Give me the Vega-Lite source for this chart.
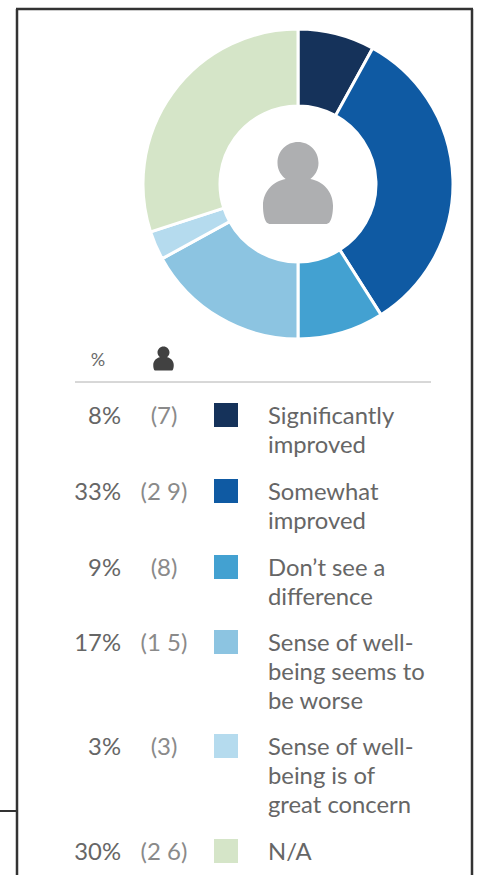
{
  "$schema": "https://vega.github.io/schema/vega-lite/v6.json",
  "width": 479,
  "height": 875,
  "padding": 0,
  "autosize": {"type": "none"},
  "background": "white",
  "config": {"view": {"stroke": null}, "text": {"font": "Lato"}},
  "data": {"values": [
    {"row": 0, "response": "Significantly improved", "label": "Significantly\nimproved", "pct": 0.08, "n": 7, "nLabel": "(7)"},
    {"row": 1, "response": "Somewhat improved", "label": "Somewhat\nimproved", "pct": 0.33, "n": 29, "nLabel": "(2 9)"},
    {"row": 2, "response": "Don’t see a difference", "label": "Don’t see a\ndifference", "pct": 0.09, "n": 8, "nLabel": "(8)"},
    {"row": 3, "response": "Sense of well-being seems to be worse", "label": "Sense of well-\nbeing seems to\nbe worse", "pct": 0.17, "n": 15, "nLabel": "(1 5)"},
    {"row": 4, "response": "Sense of well-being is of great concern", "label": "Sense of well-\nbeing is of\ngreat concern", "pct": 0.03, "n": 3, "nLabel": "(3)"},
    {"row": 5, "response": "N/A", "label": "N/A", "pct": 0.30, "n": 26, "nLabel": "(2 6)"}
  ]},
  "layer": [
    {
      "mark": {"type": "arc", "radius": 155, "radius2": 78, "stroke": "white", "strokeWidth": 3},
      "encoding": {
        "x": {"value": 298},
        "y": {"value": 184},
        "theta": {"field": "pct", "type": "quantitative", "stack": true},
        "order": {"field": "row", "type": "quantitative"},
        "color": {"field": "response", "type": "nominal", "legend": null, "scale": {
          "domain": ["Significantly improved", "Somewhat improved", "Don’t see a difference", "Sense of well-being seems to be worse", "Sense of well-being is of great concern", "N/A"],
          "range": ["#15325a", "#0f5aa3", "#43a1d1", "#8cc4e1", "#b5dbee", "#d5e5c8"]
        }}
      }
    },
    {
      "mark": {"type": "square", "size": 576, "opacity": 1},
      "encoding": {
        "x": {"value": 226},
        "y": {"field": "row", "type": "quantitative", "axis": null, "scale": {"domain": [0, 1, 2, 3, 4, 5], "range": [415, 491, 567, 642, 746, 851], "zero": false, "nice": false}},
        "color": {"field": "response", "type": "nominal", "legend": null}
      }
    },
    {
      "mark": {"type": "text", "align": "right", "baseline": "alphabetic", "dy": 9, "fontSize": 23.8, "color": "#666666"},
      "encoding": {
        "x": {"value": 121},
        "y": {"field": "row", "type": "quantitative", "axis": null},
        "text": {"field": "pct", "type": "quantitative", "format": ".0%"}
      }
    },
    {
      "mark": {"type": "text", "align": "center", "baseline": "alphabetic", "dy": 9, "fontSize": 24, "color": "#8a8a8a"},
      "encoding": {
        "x": {"value": 164},
        "y": {"field": "row", "type": "quantitative", "axis": null},
        "text": {"field": "nLabel", "type": "nominal"}
      }
    },
    {
      "mark": {"type": "text", "align": "left", "baseline": "alphabetic", "dy": 9, "fontSize": 23.8, "lineHeight": 29, "lineBreak": "\n", "color": "#666666"},
      "encoding": {
        "x": {"value": 268},
        "y": {"field": "row", "type": "quantitative", "axis": null},
        "text": {"field": "label", "type": "nominal"}
      }
    },
    {
      "data": {"values": [{"header": "%"}]},
      "mark": {"type": "text", "align": "center", "baseline": "middle", "fontSize": 18, "color": "#6a6a6a"},
      "encoding": {"x": {"value": 98}, "y": {"value": 361}, "text": {"field": "header", "type": "nominal"}}
    },
    {
      "data": {"values": [{"icon": "respondents"}]},
      "mark": {"type": "point", "filled": true, "opacity": 1, "size": 6724, "color": "#aeafb1", "shape": "M0,-1 C.28,-1 .5,-.78 .5,-.49 C.5,-.3 .4,-.18 .3,-.1 C.6,-.05 .854,.2 .854,.55 C.854,.75 .82,.9 .76,.97 L.7,1 L-.7,1 L-.76,.97 C-.82,.9 -.854,.75 -.854,.55 C-.854,.2 -.6,-.05 -.3,-.1 C-.4,-.18 -.5,-.3 -.5,-.49 C-.5,-.78 -.28,-1 0,-1 Z"},
      "encoding": {"x": {"value": 298}, "y": {"value": 183}}
    },
    {
      "data": {"values": [{"icon": "respondents"}]},
      "mark": {"type": "point", "filled": true, "opacity": 1, "size": 576, "color": "#414141", "shape": "M0,-1 C.28,-1 .5,-.78 .5,-.49 C.5,-.3 .4,-.18 .3,-.1 C.6,-.05 .854,.2 .854,.55 C.854,.75 .82,.9 .76,.97 L.7,1 L-.7,1 L-.76,.97 C-.82,.9 -.854,.75 -.854,.55 C-.854,.2 -.6,-.05 -.3,-.1 C-.4,-.18 -.5,-.3 -.5,-.49 C-.5,-.78 -.28,-1 0,-1 Z"},
      "encoding": {"x": {"value": 163.5}, "y": {"value": 358.5}}
    },
    {
      "data": {"values": [{"part": "header rule"}]},
      "mark": {"type": "rule", "color": "#b0b0b0", "strokeWidth": 1},
      "encoding": {"x": {"value": 75}, "x2": {"value": 431}, "y": {"value": 382}}
    },
    {
      "data": {"values": [{"part": "frame top"}]},
      "mark": {"type": "rule", "color": "#333333", "strokeWidth": 2.5},
      "encoding": {"x": {"value": 16}, "x2": {"value": 473}, "y": {"value": 9}}
    },
    {
      "data": {"values": [{"part": "frame left"}]},
      "mark": {"type": "rule", "color": "#333333", "strokeWidth": 2.5},
      "encoding": {"x": {"value": 17}, "y": {"value": 9}, "y2": {"value": 875}}
    },
    {
      "data": {"values": [{"part": "frame right"}]},
      "mark": {"type": "rule", "color": "#333333", "strokeWidth": 2.5},
      "encoding": {"x": {"value": 472}, "y": {"value": 9}, "y2": {"value": 875}}
    },
    {
      "data": {"values": [{"part": "stub"}]},
      "mark": {"type": "rule", "color": "#333333", "strokeWidth": 2},
      "encoding": {"x": {"value": 0}, "x2": {"value": 17}, "y": {"value": 811}}
    }
  ]
}
